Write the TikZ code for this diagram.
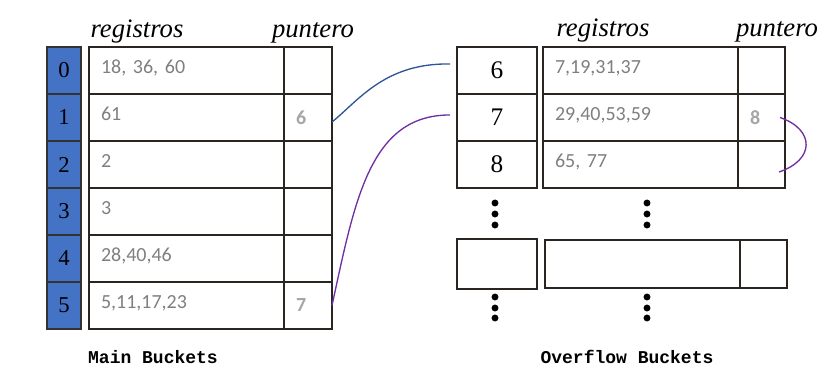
\documentclass[tikz,border=0pt]{standalone}
\usepackage{fontspec}
\setmainfont{Liberation Serif}
\setmonofont{Liberation Mono}
\newfontfamily\recfont{Carlito}
\usepackage{tikz}
\usetikzlibrary{positioning}
\definecolor{idxblue}{HTML}{4472C4}
\definecolor{linkblue}{HTML}{2F5597}
\definecolor{linkpurple}{HTML}{7030A0}
\definecolor{recgray}{HTML}{7F7F7F}
\definecolor{ptrgray}{HTML}{A6A6A6}
\definecolor{rulecol}{HTML}{2B2522}

\begin{document}
\begin{tikzpicture}[
  x=0.75pt, y=-0.75pt,
  node distance=0pt,
  cell/.style={draw=rulecol, line width=0.9pt, outer sep=0pt, inner sep=0pt, minimum height=35.25pt},
  idx/.style={cell, fill=idxblue, draw=black!80, minimum width=25.5pt, font=\fontsize{17}{17}\selectfont},
  oidx/.style={cell, minimum width=60pt, font=\fontsize{19}{19}\selectfont},
  rec/.style={cell, inner xsep=9pt, text width=128.25pt, align=left, text depth=5pt, text=recgray, font=\recfont\fontsize{15}{15}\selectfont},
  ptr/.style={cell, inner xsep=9pt, text width=18pt, align=left, text=ptrgray, font=\recfont\bfseries\fontsize{15}{15}\selectfont},
  optr/.style={ptr, text width=17.25pt},
  head/.style={anchor=base, font=\itshape\fontsize{20}{20}\selectfont},
  caption/.style={font=\ttfamily\bfseries\fontsize{13.5}{13.5}\selectfont},
  link/.style={line width=1pt}
]
\useasboundingbox (0,0) rectangle (835,381);

% main buckets
\node[idx, anchor=north west] (i0) at (47,47) {0};
\node[idx, below=of i0] (i1) {1};
\node[idx, below=of i1] (i2) {2};
\node[idx, below=of i2] (i3) {3};
\node[idx, below=of i3] (i4) {4};
\node[idx, below=of i4] (i5) {5};

\node[rec, anchor=north west] (m0) at (89,47) {18, 36, 60};
\node[ptr, right=of m0] (p0) {};
\node[rec, below=of m0] (m1) {61};
\node[ptr, right=of m1] (p1) {6};
\node[rec, below=of m1] (m2) {2};
\node[ptr, right=of m2] (p2) {};
\node[rec, below=of m2] (m3) {3};
\node[ptr, right=of m3] (p3) {};
\node[rec, below=of m3] (m4) {28,40,46};
\node[ptr, right=of m4] (p4) {};
\node[rec, below=of m4] (m5) {5,11,17,23};
\node[ptr, right=of m5] (p5) {7};

\node[head] (hreg) at (137,38) {registros};
\node[head] (hptr) at (313,38) {puntero};
\node[caption] (capm) at (153,357) {Main Buckets};

% overflow buckets
\node[oidx, anchor=north west] (o6) at (457,47) {6};
\node[oidx, below=of o6] (o7) {7};
\node[oidx, below=of o7] (o8) {8};
\node[oidx, minimum height=37.5pt, anchor=north west] (on) at (457,239) {};

\node[rec, anchor=north west] (r6) at (543,47) {7,19,31,37};
\node[optr, right=of r6] (q6) {};
\node[rec, below=of r6] (r7) {29,40,53,59};
\node[optr, right=of r7] (q7) {8};
\node[rec, below=of r7] (r8) {65, 77};
\node[optr, right=of r8] (q8) {};
\node[rec, minimum height=36pt, anchor=north west] (rn) at (545,240) {};
\node[optr, minimum height=36pt, right=of rn] (qn) {};

\node[head] (hreg2) at (603,37) {registros};
\node[head] (hptr2) at (777,37) {puntero};
\node[caption] (capo) at (627,357) {Overflow Buckets};

% dots between overflow blocks
\foreach \y in {203,214,225,297,308,318} {
  \fill (495,\y) circle[radius=2.6pt];
  \fill (647,\y) circle[radius=2.6pt];
}

% pointers
\draw[link, linkblue] ([yshift=-3.4pt]p1.east) .. controls +(27,-22) and +(-65,-1) .. ([xshift=-5.25pt, yshift=4.9pt]o6.west);
\draw[link, linkpurple] (p5.east) .. controls +(23,-106) and +(-80,0) .. ([xshift=-5.25pt, yshift=1.9pt]o7.west);
\draw[link, linkpurple] ([xshift=-3.75pt]q7.east) .. controls +(35,12) and +(36,-12) .. ([xshift=-4.5pt, yshift=-5.6pt]q8.east);
\end{tikzpicture}
\end{document}
